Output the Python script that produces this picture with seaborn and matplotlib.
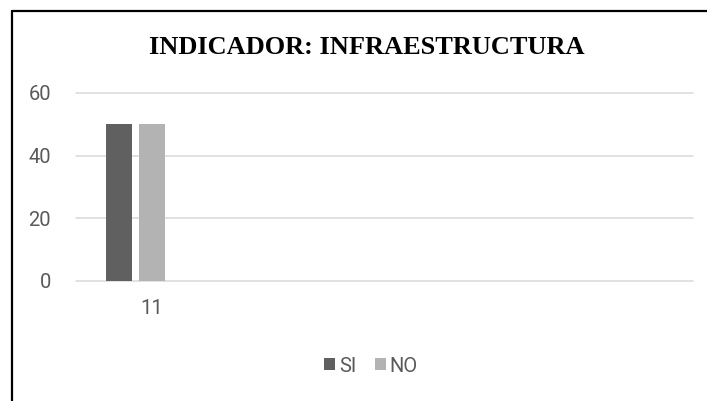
import matplotlib
matplotlib.use("Agg")
import matplotlib.pyplot as plt
from matplotlib.lines import Line2D
from matplotlib.patches import Patch
import matplotlib.transforms as mtransforms
import seaborn as sns
import pandas as pd

# Data
categories = ["11"]
series = ["SI", "NO"]
si_values = [50]
no_values = [50]
y_ticks = [0, 20, 40, 60]
title = "INDICADOR: INFRAESTRUCTURA"

colors = {"SI": "#606060", "NO": "#b3b3b3"}

df = pd.DataFrame({
    "categoria": categories * 2,
    "serie": ["SI"] * len(categories) + ["NO"] * len(categories),
    "valor": si_values + no_values,
})

sns.set_theme(style="white")
plt.rcParams["font.family"] = ["Roboto", "DejaVu Sans"]

fig = plt.figure(figsize=(7.07, 4.01), dpi=100)
ax = fig.add_axes([0.1075, 0.2993, 0.8727, 0.4688])

sns.barplot(data=df, x="categoria", y="valor", hue="serie", hue_order=series,
            palette=colors, width=0.55, gap=0.21, ax=ax, legend=False,
            saturation=1, linewidth=0)

ax.set_xlim(-0.5, 4.68)
ax.set_ylim(0, 60)
ax.set_yticks(y_ticks)
ax.set_xlabel("")
ax.set_ylabel("")
ax.yaxis.grid(True, color="#d9d9d9", linewidth=1.1)
for gl in ax.get_ygridlines():
    gl.set_clip_on(False)
ax.set_axisbelow(True)
for s in ax.spines.values():
    s.set_visible(False)
ax.tick_params(axis="both", length=0, labelsize=14.5, colors="#595959")
ax.tick_params(axis="y", pad=18)
ax.tick_params(axis="x", pad=13)
# nudge the category label slightly right
offset = mtransforms.ScaledTranslation(16 / 100, 0, fig.dpi_scale_trans)
for lbl in ax.get_xticklabels():
    lbl.set_transform(lbl.get_transform() + offset)

fig.text(367 / 707, 1 - 47 / 401, title, ha="center", va="center",
         family="Liberation Serif", fontweight="bold", fontsize=19, color="black")

handles = [Patch(facecolor=colors[s], edgecolor="none", label=s) for s in series]
fig.legend(handles=handles, loc="center", bbox_to_anchor=(371 / 707, 1 - 366 / 401),
           ncol=2, frameon=False, fontsize=14.5, labelcolor="#595959",
           handlelength=0.55, handleheight=0.55, handletextpad=0.2,
           columnspacing=0.9)

# outer frame lines (top and left)
fig.add_artist(Line2D([11.5 / 707, 1.0], [1 - 10.5 / 401, 1 - 10.5 / 401],
                      transform=fig.transFigure, color="black", linewidth=1.6))
fig.add_artist(Line2D([11.5 / 707, 11.5 / 707], [0.0, 1 - 10.5 / 401],
                      transform=fig.transFigure, color="black", linewidth=1.6))

fig.savefig("out.png", dpi=100, facecolor="white")
